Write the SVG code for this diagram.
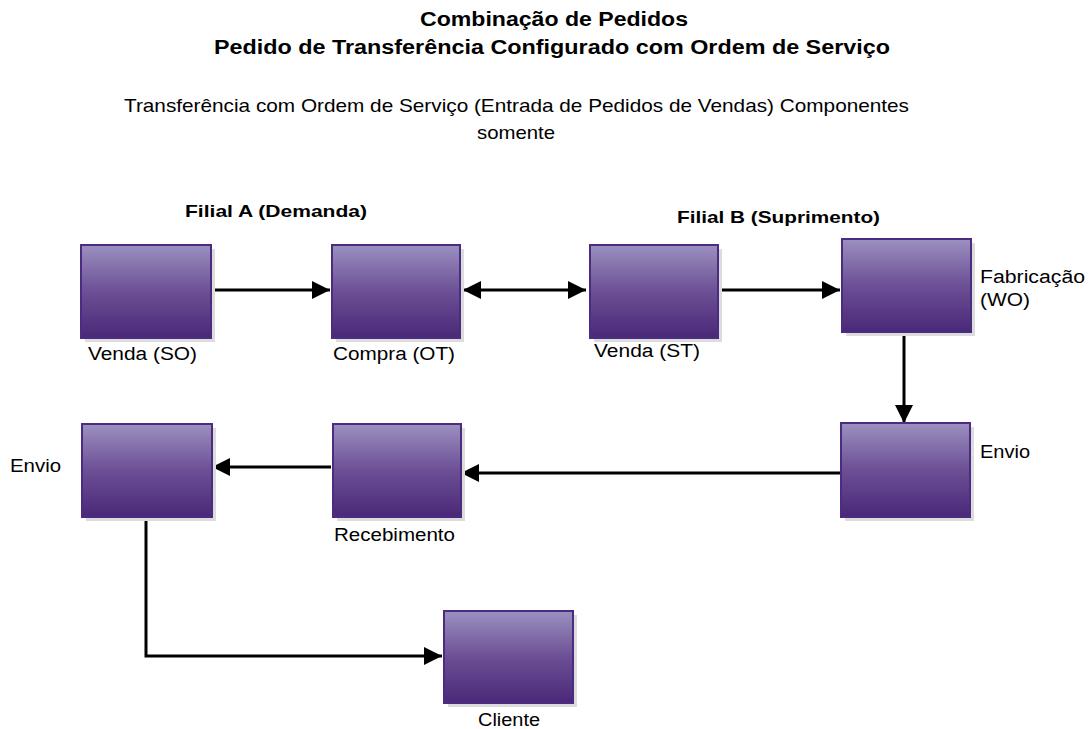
<svg xmlns="http://www.w3.org/2000/svg" width="1089" height="729" viewBox="0 0 1089 729">
<defs>
<linearGradient id="g" x1="0" y1="0" x2="0" y2="1">
<stop offset="0" stop-color="#9b90c0"/>
<stop offset="0.5" stop-color="#6c4f95"/>
<stop offset="1" stop-color="#4a2878"/>
</linearGradient>
<marker id="ah" viewBox="0 0 10 10" refX="10" refY="5" markerWidth="18" markerHeight="18" markerUnits="userSpaceOnUse" orient="auto-start-reverse">
<path d="M0,0 L10,5 L0,10 z" fill="#000"/>
</marker>
<style>
.box{fill:url(#g);stroke:#4b2c80;stroke-width:2}
.sh{fill:#dcdcdc}
.t{font-family:"Liberation Sans",Arial,sans-serif;font-size:18px;fill:#000}
.b{font-family:"Liberation Sans",Arial,sans-serif;font-size:20px;font-weight:bold;fill:#000}
.f{font-family:"Liberation Sans",Arial,sans-serif;font-size:17px;font-weight:bold;fill:#000}
.c{stroke:#000;stroke-width:3;fill:none}
</style>
</defs>
<rect width="1089" height="729" fill="#fff"/>
<g id="titles">
<text class="b" x="420" y="26" textLength="268" lengthAdjust="spacingAndGlyphs">Combinação de Pedidos</text>
<text class="b" x="214" y="54" textLength="676" lengthAdjust="spacingAndGlyphs">Pedido de Transferência Configurado com Ordem de Serviço</text>
<text class="t" x="124" y="112" textLength="785" lengthAdjust="spacingAndGlyphs" style="font-size:19px">Transferência com Ordem de Serviço (Entrada de Pedidos de Vendas) Componentes</text>
<text class="t" x="477" y="139" textLength="78" lengthAdjust="spacingAndGlyphs" style="font-size:19px">somente</text>
<text class="f" x="185" y="217" textLength="182" lengthAdjust="spacingAndGlyphs">Filial A (Demanda)</text>
<text class="f" x="677" y="223" textLength="203" lengthAdjust="spacingAndGlyphs">Filial B (Suprimento)</text>
</g>
<g id="connectors">
<line class="c" x1="212" y1="290" x2="330" y2="290" marker-end="url(#ah)"/>
<line class="c" x1="463" y1="290" x2="586" y2="290" marker-start="url(#ah)" marker-end="url(#ah)"/>
<line class="c" x1="720" y1="290" x2="840" y2="290" marker-end="url(#ah)"/>
<line class="c" x1="904" y1="335" x2="904" y2="423" marker-end="url(#ah)"/>
<line class="c" x1="840" y1="473" x2="461" y2="473" marker-end="url(#ah)"/>
<line class="c" x1="331" y1="467" x2="212" y2="467" marker-end="url(#ah)"/>
<polyline class="c" points="146,518 146,656 442,656" marker-end="url(#ah)"/>
</g>
<g id="venda-so">
<rect class="sh" x="85" y="249" width="130" height="93"/>
<rect class="box" x="81" y="245" width="130" height="93"/>
<text class="t" x="88" y="360" textLength="109" lengthAdjust="spacingAndGlyphs">Venda (SO)</text>
</g>
<g id="compra-ot">
<rect class="sh" x="336" y="249" width="128" height="93"/>
<rect class="box" x="332" y="245" width="128" height="93"/>
<text class="t" x="333" y="360" textLength="122" lengthAdjust="spacingAndGlyphs">Compra (OT)</text>
</g>
<g id="venda-st">
<rect class="sh" x="594" y="249" width="128" height="93"/>
<rect class="box" x="590" y="245" width="128" height="93"/>
<text class="t" x="594" y="357" textLength="106" lengthAdjust="spacingAndGlyphs">Venda (ST)</text>
</g>
<g id="fabricacao">
<rect class="sh" x="846" y="243" width="129" height="93"/>
<rect class="box" x="842" y="239" width="129" height="93"/>
<text class="t" x="980" y="283" textLength="105" lengthAdjust="spacingAndGlyphs">Fabricação</text>
<text class="t" x="980" y="306" textLength="50" lengthAdjust="spacingAndGlyphs">(WO)</text>
</g>
<g id="envio-b">
<rect class="sh" x="845" y="427" width="129" height="94"/>
<rect class="box" x="841" y="423" width="129" height="94"/>
<text class="t" x="980" y="458" textLength="50" lengthAdjust="spacingAndGlyphs">Envio</text>
</g>
<g id="recebimento">
<rect class="sh" x="337" y="428" width="128" height="93"/>
<rect class="box" x="333" y="424" width="128" height="93"/>
<text class="t" x="334" y="541" textLength="121" lengthAdjust="spacingAndGlyphs">Recebimento</text>
</g>
<g id="envio-a">
<rect class="sh" x="86" y="428" width="130" height="93"/>
<rect class="box" x="82" y="424" width="130" height="93"/>
<text class="t" x="10" y="472" textLength="51" lengthAdjust="spacingAndGlyphs">Envio</text>
</g>
<g id="cliente">
<rect class="sh" x="448" y="615" width="129" height="92"/>
<rect class="box" x="444" y="611" width="129" height="92"/>
<text class="t" x="478" y="726" textLength="62" lengthAdjust="spacingAndGlyphs">Cliente</text>
</g>
</svg>
